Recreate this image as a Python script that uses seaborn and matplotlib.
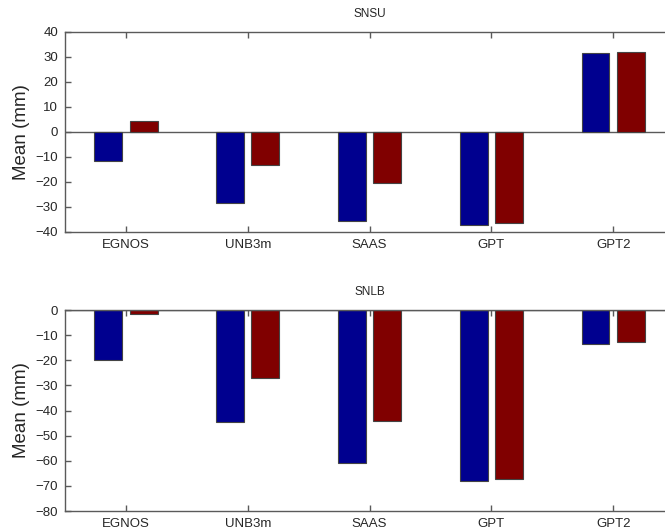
import matplotlib
matplotlib.use("Agg")
import matplotlib.pyplot as plt
import seaborn as sns
import pandas as pd

# values (mm)
models = ["EGNOS", "UNB3m", "SAAS", "GPT", "GPT2"]
series_names = ["Series 1", "Series 2"]
snsu_s1 = [-11.8, -28.6, -35.5, -37.3, 31.6]
snsu_s2 = [4.3, -13.1, -20.6, -36.4, 32.0]
snlb_s1 = [-19.7, -44.6, -61.0, -68.0, -13.4]
snlb_s2 = [-1.5, -27.0, -44.2, -67.2, -12.9]
snsu_yticks = [-40, -30, -20, -10, 0, 10, 20, 30, 40]
snlb_yticks = [-80, -70, -60, -50, -40, -30, -20, -10, 0]

colors = ["#00008F", "#800000"]
spine_col = "#5a5a5a"

sns.set_style("white")
plt.rcParams["font.family"] = ["Liberation Sans", "DejaVu Sans"]


def make_df(s1, s2):
    rows = []
    for m, a, b in zip(models, s1, s2):
        rows.append({"model": m, "series": series_names[0], "value": a})
        rows.append({"model": m, "series": series_names[1], "value": b})
    return pd.DataFrame(rows)


def draw(ax, df, title, yticks):
    sns.barplot(data=df, x="model", y="value", hue="series", order=models,
                hue_order=series_names, palette=colors, width=0.58, gap=0.21,
                edgecolor="#444444", linewidth=0.8, saturation=1, legend=False,
                errorbar=None, ax=ax)
    ax.axhline(0, color=spine_col, lw=1, zorder=0.5)
    ax.set_xlim(-0.5, 4.5)
    ax.set_ylim(yticks[0], yticks[-1])
    ax.set_yticks(yticks)
    ax.set_xlabel("")
    ax.set_ylabel("Mean (mm)", fontsize=13.5, labelpad=4)
    ax.set_title(title, fontsize=8.5, pad=11)
    for s in ax.spines.values():
        s.set_color(spine_col)
        s.set_linewidth(1)
        s.set_visible(True)
    ax.tick_params(direction="in", length=4, width=1, color=spine_col,
                   top=True, right=True, bottom=True, left=True,
                   labelsize=9.5, pad=5)


fig = plt.figure(figsize=(6.65, 5.3), dpi=100)
ax1 = fig.add_axes([0.0977, 0.5623, 0.916, 0.3774])
ax2 = fig.add_axes([0.0977, 0.0358, 0.916, 0.3792])

draw(ax1, make_df(snsu_s1, snsu_s2), "SNSU", snsu_yticks)
draw(ax2, make_df(snlb_s1, snlb_s2), "SNLB", snlb_yticks)

fig.savefig("out.png", dpi=100)
